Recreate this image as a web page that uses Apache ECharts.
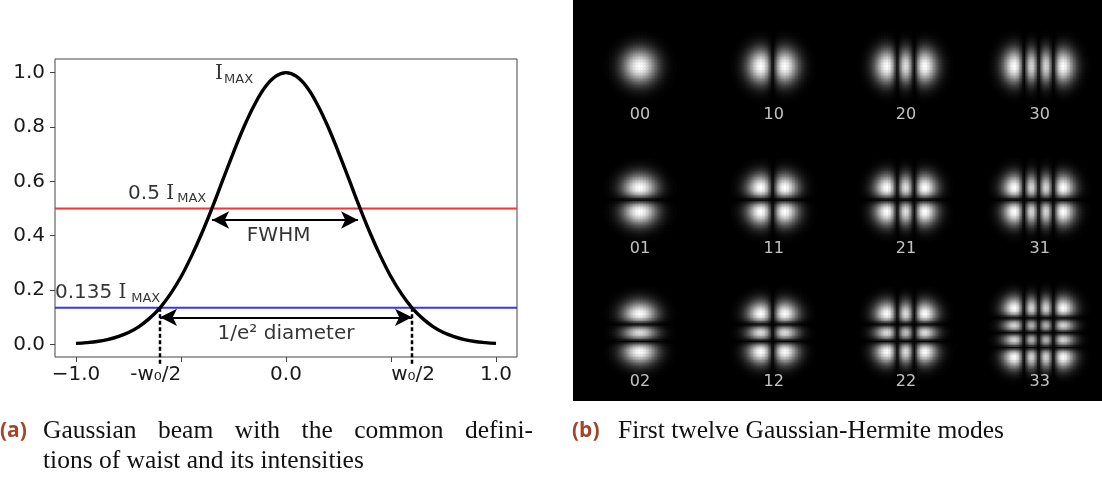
<!DOCTYPE html>
<html><head><meta charset="utf-8">
<script src="https://cdn.jsdelivr.net/npm/echarts@6/dist/echarts.min.js"></script>
<style>html,body{margin:0;padding:0;background:#fff}#c{width:1102px;height:479px}</style>
</head><body><div id="c"></div>
<script>
// ---------- Panel (a): Gaussian beam profile ----------
const beamX = [-1.0,-0.95,-0.9,-0.85,-0.8,-0.75,-0.7,-0.65,-0.6,-0.55,-0.5,-0.45,-0.4,-0.35,-0.3,-0.25,-0.2,-0.15,-0.1,-0.05,
  0.0,0.05,0.1,0.15,0.2,0.25,0.3,0.35,0.4,0.45,0.5,0.55,0.6,0.65,0.7,0.75,0.8,0.85,0.9,0.95,1.0];
const beamI = [0.004,0.007,0.011,0.018,0.029,0.044,0.066,0.096,0.135,0.186,0.249,0.325,0.411,0.506,0.607,0.707,0.801,0.882,0.946,0.986,
  1.0,0.986,0.946,0.882,0.801,0.707,0.607,0.506,0.411,0.325,0.249,0.186,0.135,0.096,0.066,0.044,0.029,0.018,0.011,0.007,0.004];
const halfLevel = 0.5;
const e2Level = 0.135;
const fwhmEnds = [-0.352, 0.343];
const fwhmArrowY = 0.458;
const waistEnds = [-0.6, 0.6];
const diamArrowY = 0.10;
const dashBottom = -0.076;
const xTickVals = [-1.0, -0.5, 0.0, 0.5, 1.0];
const xLabelVals = [-1.0, -0.62, 0.0, 0.605, 1.0];
const xLabelText = ['\u22121.0', '-w\u2080/2', '0.0', 'w\u2080/2', '1.0'];
const yTickVals = [0.0, 0.2, 0.4, 0.6, 0.8, 1.0];
const annoText = ['{s|I}', 'MAX', '0.5 {s|I}', 'MAX', 'FWHM', '0.135 {s|I}', 'MAX', '1/e\u00b2 diameter'];
const annoX = [-0.338, -0.295, -0.752, -0.518, -0.035, -1.1, -0.737, 0.0];
const annoY = [0.995, 0.973, 0.555, 0.535, 0.400, 0.191, 0.167, 0.038];
const annoSub = [false, true, false, true, false, false, true, false];
const annoCenter = [false, false, false, false, true, false, false, true];

// ---------- Panel (b): Hermite-Gaussian modes ----------
const modeNames = ['00','10','20','30','01','11','21','31','02','12','22','33'];
const modeM = [0,1,2,3, 0,1,2,3, 0,1,2,3];
const modeN = [0,0,0,0, 1,1,1,1, 2,2,2,3];

// ---------- layout ----------
const NX = 352, NY = 267, PW = 529, PH = 401, PL = 573;
const cw = PW / NX, ch = PH / NY;
const colCx = [640, 773, 906, 1039];
const rowCy = [66.5, 200, 333];
const beamW = 17;

function herm(n, t) {
  if (n === 0) return 1;
  if (n === 1) return 2 * t;
  if (n === 2) return 4 * t * t - 2;
  return 8 * t * t * t - 12 * t;
}
const heat = [];
const labelPts = [];
modeNames.forEach((name, k) => {
  const col = k % 4, row = Math.floor(k / 4);
  const cx = colCx[col] - PL, cy = rowCy[row];
  const i0 = Math.max(0, Math.floor((cx - 64) / cw)), i1 = Math.min(NX - 1, Math.ceil((cx + 64) / cw));
  const j0 = Math.max(0, Math.floor((cy - 60) / ch)), j1 = Math.min(NY - 1, Math.ceil((cy + 60) / ch));
  const cells = [];
  let mx = 0;
  for (let i = i0; i <= i1; i++) {
    const u = ((i + 0.5) * cw - cx) / beamW;
    const ax = herm(modeM[k], Math.SQRT2 * u) * Math.exp(-u * u);
    for (let j = j0; j <= j1; j++) {
      const v = ((j + 0.5) * ch - cy) / beamW;
      const ay = herm(modeN[k], Math.SQRT2 * v) * Math.exp(-v * v);
      const A = Math.abs(ax * ay);
      if (A > mx) mx = A;
      cells.push([i, j, A]);
    }
  }
  cells.forEach(c => { const r = c[2] / mx; if (r > 0.01) heat.push([c[0], c[1], r]); });
  labelPts.push({ name: name, value: [Math.round(cx / cw - 0.5), Math.round((cy + 48.5) / ch - 0.5)] });
});

const catX = Array.from({length: NX}, (_, i) => i);
const catY = Array.from({length: NY}, (_, i) => i);

const FONT = 'DejaVu Sans';
const annoData = annoText.map((t, i) => ({
  value: [annoX[i], annoY[i]],
  label: {
    show: true, formatter: t,
    position: annoCenter[i] ? 'inside' : 'right', distance: 0,
    fontSize: annoSub[i] ? 13 : 20, fontFamily: FONT, color: '#000',
    rich: {s: {fontFamily: 'DejaVu Serif', fontSize: 20, color: '#000'}}
  }
}));

const chart = echarts.init(document.getElementById('c'), null, {renderer: 'canvas', width: 1102, height: 479});
chart.setOption({
  animation: false,
  backgroundColor: '#fff',
  grid: [
    {left: 55, top: 59, width: 462, height: 298, show: true, borderColor: '#444', borderWidth: 1, backgroundColor: 'transparent'},
    {left: PL, top: 0, width: PW, height: PH, show: true, borderWidth: 0, backgroundColor: '#000'}
  ],
  xAxis: [
    {type: 'value', gridIndex: 0, min: -1.1, max: 1.1, position: 'bottom',
     axisLine: {show: false, onZero: false}, splitLine: {show: false},
     axisTick: {show: true, inside: false, length: 5, lineStyle: {color: '#444', width: 1}, customValues: xTickVals},
     axisLabel: {margin: 8, fontSize: 20, fontFamily: FONT, color: '#1a1a1a', customValues: xLabelVals,
       formatter: v => { const i = xLabelVals.findIndex(a => Math.abs(a - v) < 1e-6); return i >= 0 ? xLabelText[i] : ''; }}},
    {type: 'category', gridIndex: 1, data: catX, show: false}
  ],
  yAxis: [
    {type: 'value', gridIndex: 0, min: -0.046, max: 1.05, position: 'left',
     axisLine: {show: false, onZero: false}, splitLine: {show: false},
     axisTick: {show: true, inside: false, length: 5, lineStyle: {color: '#444', width: 1}, customValues: yTickVals},
     axisLabel: {margin: 10, fontSize: 20, fontFamily: FONT, color: '#1a1a1a', customValues: yTickVals,
       formatter: v => v.toFixed(1)}},
    {type: 'category', gridIndex: 1, data: catY, inverse: true, show: false}
  ],
  visualMap: {type: 'continuous', show: false, seriesIndex: 5, dimension: 2, min: 0, max: 1,
    inRange: {color: ['#000000', '#ffffff']}},
  series: [
    {type: 'line', xAxisIndex: 0, yAxisIndex: 0, data: [[-1.1, halfLevel], [1.1, halfLevel]], symbol: 'none',
     lineStyle: {color: '#ff3030', width: 2}, silent: true, z: 2},
    {type: 'line', xAxisIndex: 0, yAxisIndex: 0, data: [[-1.1, e2Level], [1.1, e2Level]], symbol: 'none',
     lineStyle: {color: '#3434ff', width: 2}, silent: true, z: 2,
     markLine: {silent: true, animation: false, symbol: ['arrow', 'arrow'], symbolSize: [13, 17],
       label: {show: false}, emphasis: {disabled: true},
       lineStyle: {color: '#000', width: 2.2, type: 'solid'},
       data: [
         [{coord: [fwhmEnds[0], fwhmArrowY]}, {coord: [fwhmEnds[1], fwhmArrowY]}],
         [{coord: [waistEnds[0], diamArrowY]}, {coord: [waistEnds[1], diamArrowY]}]
       ]}},
    {type: 'line', xAxisIndex: 0, yAxisIndex: 0, clip: false, symbol: 'none', silent: true, z: 3,
     data: [[waistEnds[0], e2Level], [waistEnds[0], dashBottom], null, [waistEnds[1], e2Level], [waistEnds[1], dashBottom]],
     connectNulls: false,
     lineStyle: {color: '#000', width: 2.5, type: [4, 2.5]}},
    {type: 'line', xAxisIndex: 0, yAxisIndex: 0, data: beamX.map((x, i) => [x, beamI[i]]), symbol: 'none',
     smooth: 0.4, lineStyle: {color: '#000', width: 3.4}, silent: true, z: 4},
    {type: 'scatter', xAxisIndex: 0, yAxisIndex: 0, symbolSize: 0, clip: false, silent: true, z: 5, data: annoData},
    {type: 'heatmap', xAxisIndex: 1, yAxisIndex: 1, data: heat, progressive: 0, silent: true,
     itemStyle: {borderWidth: 0}, emphasis: {disabled: true}},
    {type: 'scatter', xAxisIndex: 1, yAxisIndex: 1, symbolSize: 0, silent: true, z: 5,
     data: labelPts,
     label: {show: true, position: 'inside', formatter: p => p.name, color: '#f2f2f2', fontSize: 16, fontFamily: FONT}}
  ]
});

// ---------- captions ----------
const cv = document.createElement('canvas').getContext('2d');
const CAP_FONT = 'Liberation Serif';
function mw(t, size) { cv.font = size + 'px "' + CAP_FONT + '"'; return cv.measureText(t).width; }
const capB = 'First twelve Gaussian-Hermite modes';
let capSize = 20 * 406 / mw(capB, 20);
capSize = Math.max(16, Math.min(25.5, capSize));
const graphics = [];
function addText(x, y, t, opts) {
  graphics.push({type: 'text', x: x, y: y, silent: true,
    style: Object.assign({text: t, fontSize: capSize, fontFamily: CAP_FONT, fill: '#111', align: 'left', verticalAlign: 'middle'}, opts || {})});
}
const tagStyle = {fontFamily: 'Open Sans', fontWeight: 'bold', fontSize: 21, fill: '#a3452d'};
addText(0, 431, '(a)', tagStyle);
addText(572, 431, '(b)', tagStyle);
const words = ['Gaussian', 'beam', 'with', 'the', 'common', 'defini-'];
const wsum = words.reduce((s, w) => s + mw(w, capSize), 0);
const x0 = 43, x1 = 533;
let gap = (x1 - x0 - wsum) / (words.length - 1);
const nat = mw(' ', capSize);
if (gap < nat) gap = nat;
let xx = x0;
words.forEach(w => { addText(xx, 431, w); xx += mw(w, capSize) + gap; });
addText(43, 461, 'tions of waist and its intensities');
addText(618, 431, capB);
chart.setOption({graphic: graphics});
</script>
</body></html>
